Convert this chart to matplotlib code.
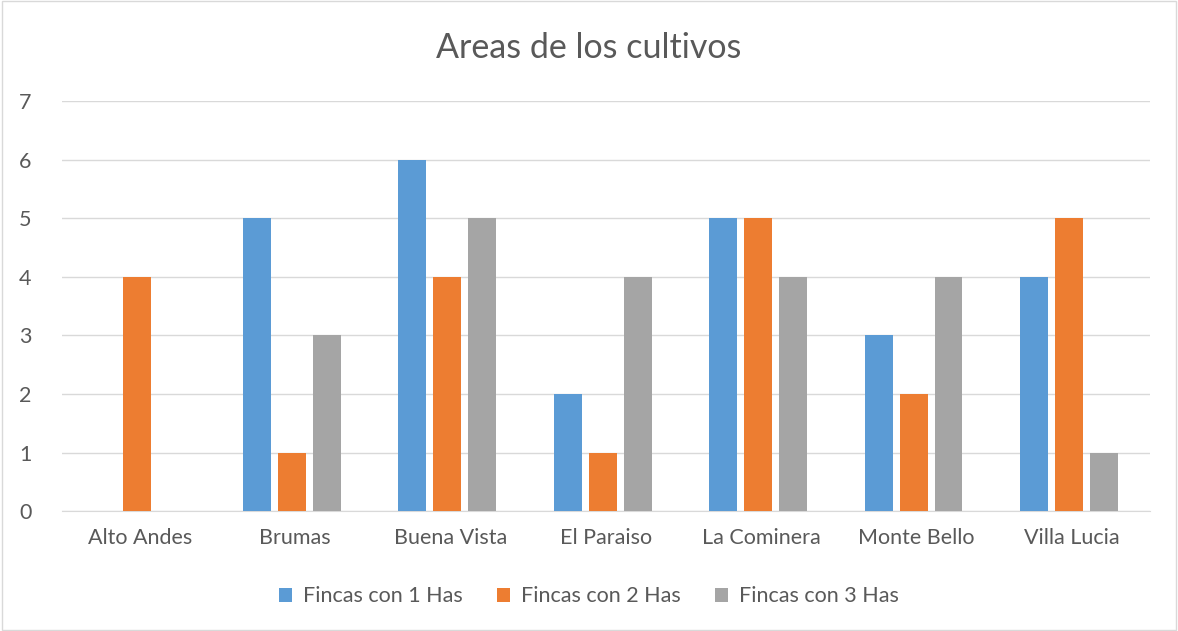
import matplotlib
matplotlib.use("Agg")
import matplotlib.pyplot as plt
import numpy as np
from matplotlib.patches import Rectangle

categories = ["Alto Andes", "Brumas", "Buena Vista", "El Paraiso", "La Cominera", "Monte Bello", "Villa Lucia"]
fincas_1 = [0, 5, 6, 2, 5, 3, 4]
fincas_2 = [4, 1, 4, 1, 5, 2, 5]
fincas_3 = [0, 3, 5, 4, 4, 4, 1]
series_names = ["Fincas con 1 Has", "Fincas con 2 Has", "Fincas con 3 Has"]
colors = ["#5B9BD5", "#ED7D31", "#A5A5A5"]
TXT = "#595959"

plt.rcParams["font.family"] = ["Lato", "DejaVu Sans"]

fig = plt.figure(figsize=(11.78, 6.31), dpi=100)
fig.patches.append(Rectangle((0.002, 0.002), 0.996, 0.996, transform=fig.transFigure,
                             fill=False, edgecolor="#D9D9D9", linewidth=1))
ax = fig.add_axes([0.0526, 0.19, 0.9234, 0.65])

xs = np.arange(len(categories))
w = 0.18
step = 0.225
for i, (vals, name, c) in enumerate(zip([fincas_1, fincas_2, fincas_3], series_names, colors)):
    ax.bar(xs + (i - 1) * step - 0.02, vals, w, color=c, label=name, zorder=3)

ax.set_xlim(-0.5, len(categories) - 0.5)
ax.set_ylim(0, 7)
ax.set_yticks(range(8))
ax.grid(axis="y", color="#D9D9D9", linewidth=1, zorder=0)
for s in ["top", "right", "left"]:
    ax.spines[s].set_visible(False)
ax.spines["bottom"].set_color("#D9D9D9")
ax.tick_params(axis="both", length=0, labelsize=15.5, labelcolor=TXT)
ax.tick_params(axis="y", pad=22)
ax.tick_params(axis="x", pad=12)
ax.set_xticks(xs)
ax.set_xticklabels(categories)

fig.text(0.5, 0.924, "Areas de los cultivos", ha="center", va="center", fontsize=24.5, color=TXT)
fig.legend(loc="center", bbox_to_anchor=(0.5, 0.055), ncol=3, frameon=False,
           fontsize=15.5, labelcolor=TXT, handlelength=0.6, handleheight=0.6,
           columnspacing=1.6, handletextpad=0.5)

fig.savefig("out.png", dpi=100)
